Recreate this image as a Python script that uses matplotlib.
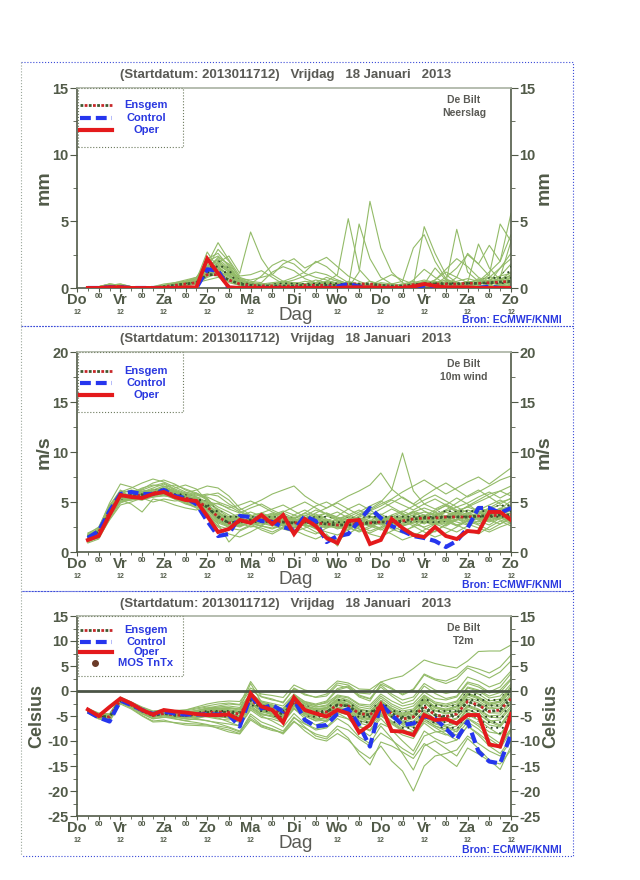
import numpy as np
import matplotlib
matplotlib.use('Agg')
import matplotlib.pyplot as plt
from matplotlib.patches import Rectangle
from matplotlib.lines import Line2D

plt.rcParams['font.family'] = ['Liberation Sans', 'DejaVu Sans']
plt.rcParams['hatch.linewidth'] = 0.7
plt.rcParams['axes.unicode_minus'] = False

# ---------------- data ----------------
hours = list(range(6, 241, 6))            # forecast steps (h after 17 Jan 12 UTC)
tick_hours = list(range(0, 241, 12))
tick_labels = ['Do', '00', 'Vr', '00', 'Za', '00', 'Zo', '00', 'Ma', '00', 'Di',
               '00', 'Wo', '00', 'Do', '00', 'Vr', '00', 'Za', '00', 'Zo']
sub_hours = [0, 24, 48, 72, 96, 144, 168, 192, 216, 240]   # '12' marks (hidden under 'Dag' at 120)
title = '(Startdatum: 2013011712)   Vrijdag   18 Januari   2013'

# Precipitation (mm / 6h)
prec_mean = [0, 0.03, 0.1, 0.1, 0.03, 0, 0.02, 0.1, 0.2, 0.3, 0.4, 1.0, 1.0, 0.6, 0.3, 0.2, 0.15, 0.15, 0.15, 0.15,
             0.2, 0.2, 0.2, 0.2, 0.3, 0.3, 0.3, 0.2, 0.15, 0.15, 0.25, 0.3, 0.3, 0.3, 0.3, 0.35, 0.35, 0.4, 0.45, 0.5]
prec_control = [0, 0, 0.05, 0.05, 0, 0, 0, 0, 0, 0, 0, 1.4, 1.3, 0, 0, 0, 0, 0, 0, 0,
                0, 0, 0, 0.1, 0.3, 0.1, 0, 0, 0, 0, 0, 0.2, 0.1, 0, 0, 0, 0, 0.1, 0, 0]
prec_oper = [0, 0, 0.05, 0.05, 0, 0, 0, 0, 0, 0.05, 0.05, 2.2, 1.1, 0.05, 0, 0, 0, 0, 0, 0,
             0, 0, 0, 0, 0.05, 0.05, 0.05, 0, 0, 0, 0.1, 0.3, 0.15, 0.05, 0.05, 0.05, 0, 0, 0, 0]
prec_members = [
    [0,0.1,0.3,0.2,0,0,0.1,0.3,0.4,0.5,0.6,2.7,1.5,0.4,0.2,0.1,0,0,0,0.1,0.2,0.3,0.1,0,0,0.2,0.5,0.3,0.1,0,0,0.2,0.4,0.1,0,0.1,0.3,0.5,0.2,0.4],
    [0,0,0.1,0.1,0,0,0,0.2,0.3,0.4,0.5,1.8,3.4,2.1,0.9,1.0,1.3,0.8,0.3,0.2,0.1,0,0,0.1,0.3,0.2,0,0,0,0.1,0.6,1.4,0.8,0.3,0.1,0,0,0.2,0.6,1.2],
    [0,0.1,0.2,0.1,0,0,0,0.1,0.2,0.3,0.4,1.2,1.9,2.4,1.1,4.2,2.2,1.0,0.5,0.3,0.2,0.4,0.8,0.5,0.2,0.1,0,0,0,0,0.2,0.5,0.3,0.1,0,0,0.3,0.8,1.5,2.6],
    [0,0,0.2,0.3,0.1,0,0,0,0.2,0.3,0.6,2.2,2.6,1.6,0.5,0.3,0.9,1.7,2.1,1.8,1.1,0.8,0.6,0.3,0.1,0,0,0.2,0.3,0.1,0,0,0.1,0.4,4.4,1.2,0.5,0.2,0.1,0.3],
    [0,0,0,0,0,0,0.1,0.2,0.4,0.6,0.8,1.6,2.0,1.4,0.6,0.3,0.2,0.1,0,0,0,0.2,0.5,1.0,5.2,1.4,0.5,0.2,0,0,0,0.3,0.6,1.2,0.8,0.4,3.3,1.5,0.6,0.3],
    [0,0.1,0.3,0.2,0,0,0,0.1,0.3,0.5,0.7,1.4,2.3,1.8,0.8,0.5,0.4,1.2,1.6,1.3,0.7,0.4,0.2,0.1,0,1.2,6.5,3.0,1.2,0.4,0.1,0,0.2,0.5,0.3,0.1,0.4,1.0,4.8,3.5],
    [0,0,0.1,0.1,0,0,0,0.2,0.3,0.4,0.5,1.0,1.4,1.1,0.7,0.6,0.8,1.0,1.8,2.2,1.5,1.9,2.3,1.6,0.9,0.5,0.2,0.1,0,0,0,0.1,0.3,0.8,1.5,2.5,1.8,0.9,0.5,1.0],
    [0,0,0,0.1,0,0,0,0,0.1,0.2,0.3,1.3,1.7,1.2,0.4,0.2,0.1,0,0,0.1,0.3,0.6,0.4,0.2,0.1,4.8,2.2,0.8,0.3,0.5,3.0,4.0,2.0,0.7,0.3,0.2,0.5,1.2,2.0,5.6],
    [0,0.1,0.2,0.3,0.1,0,0,0.1,0.2,0.3,0.4,1.1,1.3,0.9,0.5,0.3,0.2,0.3,0.5,0.8,1.2,2.0,1.6,0.9,0.4,0.2,0.1,0,0,0.1,0.2,4.6,2.6,1.0,0.4,0.2,0.1,0,0.3,0.8],
    [0,0,0.1,0.1,0,0,0,0.1,0.2,0.3,0.5,0.9,1.6,1.0,0.3,0.1,0,0,0.1,0.3,0.5,0.4,0.2,0.1,0,0,0.1,0.3,0.2,0.1,0,0,0,0.2,0.8,2.6,1.8,3.2,2.0,4.0],
    [0,0,0.1,0,0,0,0,0.1,0.3,0.5,0.8,2.0,2.4,1.7,0.6,0.2,0.1,0,0,0,0.1,0.2,0.4,0.6,0.3,0.1,0,0,0.1,0.3,0.5,0.2,0.1,0,0,0.3,0.7,0.4,0.2,0.1],
    [0,0.1,0.2,0.1,0,0,0,0,0.1,0.2,0.4,1.5,2.9,2.0,0.7,0.4,0.3,0.2,0.4,0.6,0.9,1.2,1.0,0.6,0.3,0.1,0,0,0,0,0,0.2,0.6,1.4,2.2,1.6,0.8,0.4,1.5,2.2],
    [0,0,0.1,0.2,0.1,0,0,0.1,0.2,0.4,0.7,1.7,2.1,1.3,0.5,0.2,0.1,0.1,0,0,0.1,0.2,0.1,0,0,0,0.2,0.6,1.0,0.6,0.3,0.1,0,0,0.2,0.5,0.2,0.1,0.9,1.8],
    [0,0,0,0,0,0,0,0.1,0.2,0.3,0.5,1.1,1.2,0.8,0.3,0.1,0,0,0,0,0,0.1,0.3,0.2,0.1,0,0,0,0,0,0.1,0.3,1.5,0.6,0.2,0.1,0,0,0.1,0.2],
    [0,0.1,0.3,0.2,0.1,0,0,0.1,0.3,0.4,0.6,1.4,1.6,0.9,0.4,0.2,0.1,0,0,0.1,0.2,0.1,0,0,0.1,0.3,0.2,0.1,0,0,0,0,0.2,0.3,0.1,0,0.2,0.6,0.3,0.5],
    [0,0,0.1,0.1,0,0,0,0,0.1,0.2,0.3,0.8,1.1,0.7,0.2,0.1,0,0,0,0,0.1,0.3,0.5,0.3,0.1,0,0,0,0,0,0.1,0.2,0.1,0,0,0,0.1,0.3,0.8,3.5],
    [0,0,0.1,0.2,0.1,0,0,0.1,0.2,0.3,0.5,1.0,0.9,0.6,0.3,0.1,0,0,0,0,0,0,0.1,0.2,0.5,0.3,0.1,0,0,0,0,0.1,0.2,0.1,0,0,0,0.1,0.2,0.4],
    [0,0,0,0.1,0,0,0,0,0.1,0.3,0.4,0.6,0.8,0.5,0.2,0.1,0,0,0,0,0,0,0,0,0.1,0.2,0.1,0,0,0,0,0,0,0.1,0.2,0.1,0,0,0.1,0.2],
    [0,0,0.1,0.1,0,0,0,0.1,0.2,0.3,0.5,1.2,1.5,1.0,0.4,0.2,0.1,0.1,0.2,0.3,0.2,0.1,0.1,0.2,0.3,0.2,0.1,0,0.1,0.2,0.3,0.2,0.4,0.6,0.4,0.2,0.3,0.5,0.7,0.9],
    [0,0.1,0.2,0.2,0.1,0,0,0.1,0.2,0.4,0.6,1.5,1.8,1.2,0.5,0.3,0.2,0.3,0.4,0.3,0.2,0.3,0.4,0.3,0.2,0.1,0.2,0.4,0.3,0.2,0.4,0.6,0.4,0.3,0.5,0.7,0.5,0.3,0.6,0.8],
    [0,0,0.1,0.2,0.1,0,0,0,0.1,0.2,0.3,0.9,1.2,0.9,0.4,0.2,0.2,0.1,0.1,0.2,0.3,0.4,0.3,0.2,0.1,0.2,0.3,0.2,0.1,0.1,0.2,0.3,0.2,0.2,0.3,0.4,0.6,0.4,0.3,0.5],
    [0,0.1,0.1,0.1,0,0,0,0.1,0.3,0.5,0.7,1.6,2.2,1.5,0.6,0.3,0.2,0.2,0.3,0.4,0.3,0.2,0.3,0.4,0.3,0.2,0.1,0.1,0.2,0.3,0.2,0.4,0.5,0.3,0.2,0.4,0.6,0.8,0.5,0.7],
    [0,0,0.2,0.2,0,0,0,0.1,0.2,0.3,0.4,1.3,1.9,1.3,0.5,0.3,0.3,0.4,0.5,0.4,0.3,0.2,0.2,0.3,0.4,0.3,0.2,0.1,0,0.1,0.3,0.5,0.3,0.2,0.3,0.5,0.4,0.6,0.9,1.1],
    [0,0,0.1,0.1,0,0,0,0.1,0.2,0.3,0.4,1.0,1.4,1.1,0.6,0.4,0.3,0.2,0.2,0.2,0.1,0.2,0.3,0.2,0.2,0.3,0.2,0.2,0.3,0.2,0.1,0.2,0.3,0.4,0.3,0.2,0.4,0.3,0.4,0.6],
]

# 10 m wind (m/s)
wind_mean = [1.5, 2.0, 4.0, 5.6, 5.6, 5.7, 5.9, 6.1, 5.7, 5.4, 5.1, 4.5, 3.5, 2.9, 3.0, 3.2, 3.2, 3.1, 3.0, 2.9,
             3.0, 2.9, 2.8, 2.7, 2.7, 2.8, 2.9, 3.0, 3.0, 3.1, 3.3, 3.4, 3.4, 3.5, 3.5, 3.5, 3.6, 3.6, 3.7, 3.7]
wind_control = [1.4, 2.1, 4.1, 5.8, 6.0, 5.8, 5.8, 6.2, 5.6, 5.4, 4.8, 3.1, 1.6, 1.8, 3.6, 3.5, 3.1, 3.0, 2.5, 2.2,
                3.6, 3.1, 1.0, 1.6, 1.8, 3.1, 4.4, 3.4, 2.6, 2.1, 1.6, 1.4, 1.1, 0.5, 1.1, 2.4, 4.4, 4.4, 3.9, 4.4]
wind_oper = [1.2, 1.6, 3.7, 5.7, 5.5, 5.4, 5.8, 6.0, 5.5, 5.2, 5.1, 3.6, 2.0, 2.3, 3.2, 2.9, 3.7, 2.8, 3.7, 1.8,
             3.3, 2.6, 1.4, 0.9, 3.1, 3.2, 0.8, 1.2, 3.3, 2.4, 1.7, 1.5, 2.5, 1.6, 1.3, 2.1, 2.0, 4.0, 4.0, 3.2]
wind_members = [
    [1.2,1.8,4.2,5.8,6.2,6.0,6.4,6.8,6.2,5.8,5.5,5.0,4.2,3.5,3.8,3.2,3.5,3.0,2.6,2.4,2.8,3.3,3.0,2.5,2.2,2.9,3.4,3.8,3.2,2.7,3.0,3.6,4.2,4.6,4.0,3.5,3.9,4.4,5.0,5.3],
    [1.6,2.2,4.6,6.2,5.4,5.2,5.9,6.2,5.8,5.6,5.9,5.4,4.1,3.0,2.6,2.9,3.4,3.8,3.3,2.9,2.2,1.8,2.4,3.1,3.5,3.0,2.6,2.2,2.8,3.5,4.1,3.7,3.0,2.6,3.2,3.8,4.5,4.0,3.4,3.0],
    [1.0,1.5,3.5,5.0,5.2,5.6,5.5,5.9,6.4,6.7,6.3,5.1,3.3,2.4,2.2,2.7,3.0,3.6,3.9,3.4,2.8,3.1,3.6,4.0,3.4,2.6,2.1,2.5,3.3,3.8,3.1,2.4,2.0,2.8,3.9,4.6,5.2,5.8,6.1,6.6],
    [1.9,2.4,4.9,6.8,6.5,6.0,6.2,6.6,6.0,5.4,4.8,3.9,2.8,1.0,2.1,2.6,2.4,2.0,2.5,2.9,3.6,4.2,3.8,3.1,2.6,2.3,1.8,1.5,2.1,2.6,2.9,3.3,2.8,2.4,2.0,2.6,3.1,2.7,3.4,3.9],
    [1.3,1.7,3.8,5.2,4.8,4.0,5.3,5.1,4.7,4.4,4.2,4.6,4.9,4.3,3.9,4.4,4.8,4.2,3.7,3.3,3.9,4.6,5.0,4.4,3.8,3.2,3.7,4.3,4.9,5.5,4.8,4.1,3.6,4.2,4.9,5.6,6.2,5.5,4.8,5.4],
    [1.4,2.0,4.1,5.5,5.9,6.3,6.9,7.2,6.8,6.2,5.8,5.2,4.5,4.0,3.4,2.8,2.2,1.8,2.4,3.0,2.6,2.0,1.6,1.2,1.8,2.5,3.2,2.9,2.3,1.9,2.6,3.4,4.0,4.7,5.4,4.8,4.0,3.6,4.3,5.1],
    [1.1,1.4,3.2,4.7,5.0,5.4,5.0,5.3,5.1,5.2,5.4,5.7,5.9,5.2,4.1,3.6,3.9,4.3,4.7,4.1,3.5,2.9,2.5,2.9,3.5,4.0,4.6,5.1,4.5,3.9,3.3,2.8,3.4,4.0,3.5,3.0,3.5,4.2,3.8,3.3],
    [1.7,2.3,4.4,5.9,5.7,5.5,5.8,6.0,5.5,4.9,4.4,3.6,2.6,2.3,2.8,3.3,3.0,2.7,2.3,2.0,2.4,2.8,3.2,2.9,2.4,2.1,2.6,3.0,3.6,3.2,2.6,2.0,1.5,1.9,2.5,3.1,2.7,2.2,2.8,3.5],
    [1.5,1.9,4.0,5.4,5.8,6.2,6.0,6.4,6.1,5.7,5.1,4.4,3.8,3.3,3.6,4.0,3.6,3.2,2.9,3.4,3.9,3.5,2.9,2.5,3.0,3.6,4.2,4.8,5.3,6.0,6.6,7.2,6.5,5.8,6.4,7.0,7.5,6.8,7.6,8.4],
    [0.9,1.3,3.3,4.9,5.3,5.8,6.3,6.0,5.7,5.9,6.2,6.6,6.4,5.6,4.4,3.7,3.2,2.8,3.1,3.7,4.2,3.6,3.1,3.6,4.3,4.8,4.2,3.5,2.9,2.4,1.9,1.5,2.1,2.7,3.3,2.8,2.4,2.0,2.5,2.9],
    [1.6,2.1,4.3,5.6,5.5,5.9,6.1,5.7,5.3,4.8,4.5,4.1,3.6,3.2,2.9,2.5,2.7,3.2,3.6,3.2,2.7,2.4,2.0,1.7,2.2,2.8,3.1,3.7,4.3,3.8,3.3,2.9,3.5,4.1,4.5,3.9,3.3,3.8,4.4,4.0],
    [1.2,1.6,3.7,5.3,5.6,5.8,5.6,5.9,5.4,5.0,4.7,4.2,3.1,2.5,2.9,3.4,3.8,3.4,2.8,2.2,1.7,1.3,1.8,0.6,2.7,3.3,2.8,2.3,1.8,1.2,1.6,2.2,2.8,3.3,2.7,2.2,1.8,2.5,3.1,2.6],
    [1.8,2.5,4.7,6.0,6.4,6.9,7.3,7.0,6.5,6.0,5.7,5.5,5.0,4.6,4.0,3.5,3.1,3.5,4.0,4.5,5.0,4.4,3.8,3.3,3.7,4.2,3.6,3.1,3.5,4.0,4.6,5.2,5.7,5.1,4.5,4.9,5.5,6.0,5.4,6.0],
    [1.3,1.8,3.9,5.1,5.2,5.3,5.7,6.1,5.9,5.5,5.2,4.0,2.5,1.8,1.5,2.0,2.6,3.2,2.8,2.4,2.9,3.4,3.9,3.4,2.8,2.3,1.9,2.4,3.0,3.5,4.0,3.4,2.9,3.4,3.9,3.3,2.8,3.3,3.9,4.5],
    [1.5,2.1,4.2,5.7,5.4,5.6,6.0,6.3,5.9,5.5,5.3,5.0,4.8,4.4,4.7,5.1,4.6,4.0,3.6,3.1,3.4,3.9,4.4,4.9,4.3,3.7,4.1,4.6,5.2,4.7,4.2,4.8,5.3,4.7,4.1,4.5,5.0,5.5,6.1,5.6],
    [1.0,1.6,3.6,5.2,5.8,6.0,5.9,6.5,6.7,6.3,5.9,5.3,4.0,3.2,3.5,3.0,2.6,2.3,2.7,3.2,2.8,2.3,2.6,3.0,2.5,2.0,2.4,3.0,2.6,2.1,2.5,3.0,3.6,3.1,2.6,3.2,3.7,3.2,2.8,3.3],
    [1.4,1.9,4.0,5.4,5.6,5.3,5.5,5.7,5.6,5.3,5.0,4.5,3.4,2.8,2.5,3.0,3.5,3.9,3.4,3.0,3.4,3.8,3.3,2.8,3.2,3.8,4.3,5.0,6.2,9.9,6.1,4.8,4.3,4.8,4.2,3.7,4.2,4.7,5.2,4.6],
    [1.7,2.2,4.5,6.1,6.0,6.2,6.6,6.9,6.3,5.9,5.6,5.8,5.6,4.8,4.2,4.7,5.2,5.8,6.2,6.6,5.6,4.9,4.4,5.0,5.6,6.1,6.7,7.9,6.3,5.4,4.8,5.6,6.3,6.9,6.2,5.5,6.0,6.6,7.2,7.6],
    [1.5,2.0,4.1,5.5,5.7,5.9,6.1,6.3,5.8,5.5,5.2,4.6,3.7,3.1,2.9,3.3,3.6,3.3,2.9,2.7,3.1,3.5,3.2,2.8,3.0,3.4,3.1,2.7,3.1,3.6,3.9,3.5,3.1,3.6,4.0,3.6,3.2,3.7,4.1,3.8],
    [1.3,1.9,3.9,5.6,5.5,5.6,5.8,6.0,5.6,5.2,4.9,4.3,3.3,2.6,2.8,3.1,2.9,2.6,2.8,3.1,2.7,2.5,2.9,3.2,2.8,2.5,2.9,3.3,2.9,2.6,3.0,3.5,3.1,2.8,3.2,3.6,3.3,3.0,3.4,3.1],
    [1.6,2.1,4.2,5.6,5.8,6.0,6.2,6.4,6.0,5.6,5.3,4.8,3.9,3.3,3.1,2.8,3.1,3.4,3.2,2.8,3.2,3.0,2.6,2.4,2.9,3.1,2.8,3.2,3.6,3.3,3.7,4.0,3.7,3.3,3.8,4.2,3.9,3.5,3.9,4.3],
    [1.4,1.9,3.8,5.3,5.4,5.5,5.7,5.8,5.4,5.1,4.8,4.0,3.0,2.7,3.0,3.4,3.1,2.9,3.3,3.0,2.6,2.8,3.0,2.6,2.4,2.7,3.1,2.8,2.5,2.9,3.2,2.9,3.3,3.0,2.7,3.1,3.4,3.1,3.5,3.2],
    [1.2,1.7,3.6,5.1,5.4,5.7,6.0,6.2,5.9,5.6,5.4,5.0,4.3,3.7,3.3,3.6,3.9,3.5,3.1,3.4,3.7,3.3,2.9,3.3,3.6,3.2,2.8,3.2,3.7,4.1,3.6,3.2,3.7,4.2,3.8,3.4,3.8,4.3,4.7,4.2],
    [1.7,2.2,4.3,5.8,5.6,5.4,5.6,5.9,5.3,4.9,4.6,3.8,2.9,2.5,2.7,2.9,2.6,2.4,2.7,2.5,2.9,3.2,2.8,2.3,2.6,3.0,2.7,2.4,2.8,3.1,2.8,2.5,2.9,3.3,3.0,2.7,3.1,3.5,3.2,2.9],
    [1.1,1.6,3.7,5.4,5.9,6.4,6.7,6.6,6.1,5.8,5.5,4.9,3.6,2.9,2.6,3.0,3.3,3.7,4.1,3.7,3.3,3.6,3.9,3.5,3.1,3.5,3.9,3.6,3.2,3.6,4.0,4.4,4.0,3.6,4.1,4.5,4.1,3.7,4.2,4.6],
    [1.5,2.0,4.0,5.6,5.3,5.2,5.5,5.6,5.5,5.3,5.0,4.4,3.4,3.0,3.3,3.0,2.8,3.1,2.8,2.6,2.9,2.7,2.4,2.7,3.0,2.7,3.0,3.4,3.1,2.8,3.2,3.0,2.7,3.0,3.3,3.0,3.4,3.2,3.6,3.4],
    [1.3,1.8,4.0,5.5,5.7,5.8,6.0,6.1,5.6,5.2,5.0,4.6,3.8,3.4,3.6,3.3,3.0,3.3,3.6,3.3,3.0,3.3,3.6,3.2,2.9,3.2,3.5,3.1,2.8,3.3,3.7,3.3,3.7,4.0,3.6,3.9,4.3,3.9,4.3,4.0],
    [1.6,2.3,4.4,5.7,5.5,5.8,5.9,6.2,5.9,5.4,5.1,4.3,3.2,2.7,2.9,3.2,3.4,3.0,2.6,2.9,3.3,3.0,2.7,3.0,3.3,2.9,2.6,3.0,3.4,3.0,3.4,3.7,3.4,3.1,3.5,3.2,3.6,4.0,3.6,3.9],
    [1.4,1.8,3.9,5.4,5.6,5.7,5.9,6.3,6.0,5.7,5.3,4.6,3.5,3.1,3.4,3.7,3.3,3.0,3.2,3.5,3.2,2.9,3.1,2.8,3.1,3.4,3.1,2.9,3.3,3.5,3.2,3.6,3.9,3.5,3.2,3.6,3.9,3.6,3.3,3.7],
    [1.2,1.7,3.7,5.2,5.3,5.6,5.8,5.9,5.6,5.4,5.2,4.7,3.9,3.5,3.2,2.9,3.2,3.5,3.1,2.8,3.1,3.4,3.0,2.7,3.0,3.3,3.6,3.2,2.9,3.2,3.5,3.1,2.8,3.2,3.6,3.3,3.0,3.4,3.8,3.5],
]

# 2 m temperature (Celsius)
temp_mean = [-3.9, -5.0, -5.2, -1.8, -2.8, -4.0, -4.9, -4.5, -4.8, -4.9, -4.6, -4.3, -4.2, -4.3, -4.6, -1.8, -3.4, -3.9, -4.6, -2.2,
             -3.8, -4.5, -4.2, -2.8, -3.0, -4.5, -4.8, -2.8, -4.5, -5.6, -5.2, -3.1, -4.8, -5.1, -4.6, -2.1, -2.8, -4.1, -3.8, -1.5]
temp_control = [-4.1, -5.3, -6.1, -1.9, -2.8, -3.8, -4.6, -4.1, -4.5, -4.7, -4.7, -4.7, -4.7, -4.8, -7.1, -1.0, -3.5, -2.8, -4.1, -1.7,
                -5.8, -7.1, -6.8, -4.5, -3.6, -6.8, -11.1, -2.6, -4.8, -6.8, -6.5, -5.1, -5.5, -7.5, -9.7, -6.1, -12.1, -14.1, -14.5, -8.6]
temp_oper = [-3.7, -5.0, -3.2, -1.5, -2.5, -3.8, -4.7, -3.8, -4.1, -4.3, -4.6, -4.8, -4.8, -4.7, -5.8, -0.5, -3.1, -3.8, -6.3, -1.3,
             -3.8, -4.5, -5.1, -3.8, -4.5, -8.3, -6.8, -2.8, -8.0, -8.1, -8.8, -4.8, -5.8, -5.6, -6.5, -4.8, -4.8, -10.7, -11.1, -4.6]
temp_members = [
    [-3.6,-4.7,-5.0,-1.5,-2.6,-3.7,-4.5,-4.0,-4.3,-4.4,-4.0,-3.5,-3.2,-3.0,-3.3,-0.5,-2.0,-2.5,-3.0,-0.6,-2.2,-2.8,-2.4,-0.8,-1.2,-2.6,-2.8,-0.6,-2.0,-3.0,-2.5,-0.2,-1.5,-1.8,-1.2,1.5,0.8,-0.4,0.2,2.5],
    [-3.8,-4.8,-4.9,-1.6,-2.5,-3.6,-4.4,-3.9,-4.0,-3.8,-3.2,-2.6,-2.2,-2.0,-2.1,0.6,-0.6,-0.9,-1.3,1.2,0.2,-0.3,0.1,2.0,1.6,0.4,0.3,1.8,2.5,3.0,4.5,6.2,5.5,5.0,4.6,6.0,7.9,8.0,8.0,9.2],
    [-4.2,-5.4,-5.8,-2.3,-3.4,-4.9,-6.0,-5.8,-6.4,-6.8,-6.9,-7.0,-7.3,-7.8,-8.5,-5.0,-6.8,-7.6,-8.4,-6.0,-8.0,-9.5,-10.0,-8.5,-9.8,-12.0,-13.5,-11.0,-14.0,-16.0,-20.0,-15.0,-13.0,-12.5,-11.8,-9.0,-10.5,-12.0,-13.0,-10.0],
    [-3.7,-5.2,-5.6,-2.0,-3.1,-4.5,-5.6,-5.2,-5.6,-5.9,-5.5,-5.0,-5.4,-6.2,-7.0,-3.5,-5.0,-6.0,-7.2,-4.5,-6.5,-7.8,-7.4,-5.5,-6.8,-9.2,-10.5,-7.0,-9.5,-12.5,-15.8,-11.0,-10.0,-11.5,-13.0,-9.5,-11.5,-13.8,-15.7,-11.0],
    [-4.0,-4.9,-5.0,-1.9,-2.7,-3.8,-4.6,-4.3,-4.9,-5.3,-5.1,-4.9,-5.0,-5.1,-5.2,-2.5,-4.0,-4.8,-5.5,-2.9,-4.5,-5.6,-5.9,-3.8,-4.2,-5.5,-6.2,-3.5,-5.2,-6.5,-7.3,-4.2,-6.0,-7.0,-8.2,-5.5,-7.0,-9.0,-10.5,-7.5],
    [-3.5,-4.6,-4.8,-1.4,-2.2,-3.2,-4.0,-3.8,-4.1,-4.5,-4.8,-5.2,-5.6,-5.8,-5.3,-1.2,-2.5,-3.0,-3.6,-0.8,-2.1,-2.6,-2.0,0.5,1.0,-0.8,-1.5,1.2,-0.6,-1.8,-1.2,1.5,0.2,-0.5,0.0,2.8,2.0,0.8,1.6,4.0],
    [-4.1,-5.1,-5.4,-2.1,-3.0,-4.3,-5.3,-5.0,-5.2,-5.0,-4.7,-4.4,-4.6,-5.0,-5.9,-3.0,-4.6,-5.2,-6.0,-3.5,-5.5,-6.8,-6.0,-4.0,-4.8,-7.0,-8.0,-5.5,-7.8,-10.0,-12.0,-8.0,-9.5,-10.5,-9.8,-7.0,-8.5,-10.2,-11.5,-8.0],
    [-3.9,-4.9,-5.1,-1.7,-2.9,-4.2,-5.0,-4.4,-4.6,-4.7,-4.4,-3.9,-3.6,-3.5,-3.8,-0.9,-2.6,-3.2,-3.9,-1.5,-2.9,-3.5,-3.3,-1.6,-2.2,-3.8,-4.1,-1.9,-3.6,-4.6,-4.0,-1.5,-3.1,-3.8,-3.0,-0.6,-1.2,-2.4,-2.0,0.5],
    [-3.6,-4.5,-4.6,-1.3,-2.4,-3.5,-4.2,-4.2,-4.6,-5.1,-5.5,-6.0,-6.3,-6.6,-7.0,-3.8,-5.3,-5.6,-6.3,-3.6,-5.0,-5.9,-5.2,-2.6,-3.2,-5.0,-5.6,-2.5,-4.8,-6.2,-5.5,-2.0,-4.5,-5.6,-6.5,-3.2,-4.0,-5.8,-6.8,-3.8],
    [-4.3,-5.5,-5.7,-2.4,-3.3,-4.6,-5.5,-5.3,-5.3,-5.2,-4.9,-4.3,-4.0,-4.0,-4.3,-1.0,-2.8,-3.3,-4.2,-1.8,-3.4,-4.0,-3.6,-1.9,-2.6,-4.0,-4.6,-2.2,-4.0,-5.0,-4.2,-1.2,-2.5,-2.9,-2.2,0.8,0.2,-1.0,-0.3,2.2],
    [-3.8,-4.8,-5.2,-1.9,-2.8,-3.9,-4.8,-4.6,-4.9,-5.0,-4.7,-4.6,-4.9,-5.5,-6.3,-3.3,-4.8,-5.0,-5.6,-3.0,-4.4,-5.3,-6.2,-4.4,-5.6,-7.6,-9.0,-6.5,-7.5,-8.8,-9.5,-6.0,-7.3,-8.6,-9.8,-7.0,-8.8,-11.0,-12.5,-9.5],
    [-3.7,-4.7,-4.9,-1.6,-2.6,-3.8,-4.7,-4.2,-4.4,-4.3,-3.9,-3.4,-3.0,-2.6,-2.8,0.2,-1.2,-1.8,-2.2,0.4,-0.8,-1.2,-0.6,1.6,1.2,-0.4,-0.6,1.8,0.6,-0.8,0.2,3.2,2.2,1.5,2.4,4.6,3.6,2.6,3.8,6.0],
    [-4.0,-5.2,-5.5,-2.2,-3.1,-4.4,-5.2,-4.8,-5.2,-5.6,-5.7,-5.9,-6.5,-7.2,-8.0,-5.5,-7.0,-7.6,-8.6,-6.2,-7.4,-8.6,-9.2,-7.0,-7.8,-9.6,-11.0,-8.4,-9.8,-11.5,-12.8,-9.0,-8.2,-8.0,-7.6,-4.8,-5.8,-7.4,-8.8,-6.0],
    [-3.9,-5.0,-5.3,-1.8,-2.7,-4.0,-4.8,-4.4,-4.7,-4.8,-4.5,-4.1,-3.9,-4.1,-4.4,-1.5,-3.0,-3.4,-4.1,-1.6,-3.0,-3.6,-3.6,-2.0,-2.6,-4.3,-4.9,-3.0,-5.0,-6.8,-8.0,-5.2,-6.6,-7.2,-6.4,-3.6,-4.6,-6.2,-7.0,-4.0],
    [-3.5,-4.4,-4.6,-1.2,-2.2,-3.3,-4.1,-3.7,-3.9,-3.8,-3.4,-3.0,-2.6,-2.4,-2.7,1.9,-1.1,-1.6,-2.4,0.6,-0.6,-1.3,-1.0,1.2,0.6,-1.0,-1.6,0.8,-1.0,-2.5,-1.8,1.0,-0.5,-1.5,-1.0,1.8,1.2,-0.2,0.8,3.5],
    [-4.2,-5.3,-5.5,-2.0,-3.0,-4.2,-5.1,-4.9,-5.5,-6.0,-6.3,-6.7,-7.5,-8.2,-8.6,-5.8,-7.2,-7.9,-8.3,-5.4,-6.6,-7.5,-7.2,-5.0,-5.6,-7.2,-7.8,-5.0,-6.4,-7.8,-8.6,-5.6,-7.0,-8.0,-8.8,-6.2,-7.6,-9.6,-11.0,-7.6],
    [-3.6,-4.8,-5.0,-1.7,-2.6,-3.6,-4.5,-4.1,-4.2,-4.0,-3.6,-3.2,-3.4,-3.8,-4.2,-1.6,-3.2,-3.8,-4.8,-2.6,-4.2,-5.0,-4.4,-2.2,-2.8,-4.6,-5.4,-3.2,-5.0,-6.0,-5.0,-1.8,-3.4,-4.0,-3.2,-0.6,-1.4,-2.8,-2.2,1.0],
    [-3.9,-5.1,-5.3,-1.9,-3.0,-4.2,-5.0,-4.6,-4.7,-4.6,-4.2,-3.8,-3.5,-3.4,-3.6,1.5,-2.2,-2.8,-3.6,-1.0,-2.4,-2.9,-2.2,0.2,0.8,-1.2,-2.0,1.4,0.4,-0.6,0.4,3.4,2.4,2.0,3.0,5.0,4.4,3.6,4.8,7.2],
    [-4.4,-5.6,-6.1,-2.6,-3.6,-5.0,-6.2,-6.1,-6.3,-6.5,-6.6,-6.8,-7.0,-7.4,-8.2,-4.6,-6.2,-7.0,-8.0,-5.2,-7.2,-9.0,-9.6,-7.6,-9.4,-12.6,-14.8,-10.2,-11.0,-12.2,-13.5,-10.5,-12.0,-13.5,-15.1,-11.4,-12.6,-14.0,-14.6,-11.8],
    [-3.8,-4.9,-5.1,-1.7,-2.7,-3.9,-4.8,-4.4,-4.6,-4.6,-4.2,-3.8,-3.8,-4.0,-4.3,-1.2,-2.8,-3.4,-4.0,-1.4,-3.0,-3.8,-3.4,-1.8,-2.2,-3.6,-4.0,-1.9,-3.4,-4.4,-3.9,-1.6,-3.2,-3.6,-3.0,-0.4,-1.2,-2.6,-2.2,0.2],
    [-4.0,-5.1,-5.4,-2.0,-3.0,-4.2,-5.1,-4.7,-5.0,-5.1,-4.9,-4.7,-4.7,-4.9,-5.3,-2.6,-4.2,-4.6,-5.4,-3.1,-4.7,-5.6,-5.4,-4.0,-4.4,-6.0,-6.4,-4.3,-6.0,-7.2,-7.0,-4.8,-6.4,-6.8,-6.2,-3.8,-4.6,-6.0,-5.8,-3.4],
    [-3.7,-4.8,-5.0,-1.6,-2.6,-3.8,-4.6,-4.2,-4.5,-4.7,-4.4,-4.0,-3.9,-3.9,-4.2,-1.4,-3.0,-3.6,-4.4,-2.0,-3.5,-4.2,-3.9,-2.4,-2.8,-4.4,-4.6,-2.4,-4.0,-5.0,-4.6,-2.4,-4.0,-4.6,-4.2,-1.6,-2.4,-3.6,-3.4,-1.0],
    [-4.1,-5.2,-5.3,-1.9,-2.9,-4.1,-5.0,-4.6,-4.9,-5.0,-4.8,-4.5,-4.4,-4.5,-4.9,-2.2,-3.8,-4.2,-4.9,-2.6,-4.2,-4.9,-4.6,-3.2,-3.6,-5.2,-5.6,-3.6,-5.2,-6.4,-6.0,-3.8,-5.6,-6.0,-5.4,-2.8,-3.6,-5.0,-4.8,-2.4],
    [-3.9,-5.0,-5.2,-1.8,-2.8,-4.0,-4.8,-4.3,-4.5,-4.4,-4.0,-3.6,-3.4,-3.3,-3.6,-0.6,-2.2,-2.8,-3.5,-1.0,-2.6,-3.2,-2.8,-1.0,-1.4,-2.8,-3.2,-1.0,-2.6,-3.6,-3.0,-0.8,-2.2,-2.6,-2.0,0.6,0.0,-1.4,-1.0,1.4],
    [-3.8,-4.9,-5.3,-2.0,-3.0,-4.3,-5.2,-4.9,-5.3,-5.5,-5.3,-5.1,-5.2,-5.4,-5.8,-3.0,-4.5,-5.0,-5.8,-3.4,-5.0,-6.0,-5.8,-4.2,-4.8,-6.4,-7.0,-4.8,-6.6,-8.0,-8.2,-5.6,-7.0,-7.6,-7.0,-4.2,-5.2,-6.8,-7.2,-4.6],
    [-3.6,-4.6,-4.8,-1.5,-2.5,-3.6,-4.4,-4.0,-4.2,-4.2,-3.9,-3.6,-3.6,-3.8,-4.2,-1.6,-3.2,-3.8,-4.6,-2.2,-3.8,-4.6,-4.4,-2.8,-3.2,-4.8,-5.0,-2.6,-4.2,-5.4,-4.8,-2.2,-3.8,-4.4,-4.0,-1.2,-2.0,-3.4,-3.0,-0.6],
    [-4.0,-5.2,-5.4,-2.0,-2.9,-4.1,-5.0,-4.6,-4.8,-4.8,-4.5,-4.2,-4.0,-4.1,-4.4,-1.6,-3.3,-3.7,-4.3,-1.8,-3.2,-3.8,-3.4,-1.6,-2.0,-3.6,-4.2,-2.0,-4.0,-5.2,-5.4,-3.2,-5.0,-5.4,-4.8,-2.2,-3.0,-4.4,-4.4,-2.0],
    [-3.9,-4.9,-5.0,-1.7,-2.7,-4.0,-4.9,-4.5,-4.7,-4.9,-4.7,-4.5,-4.6,-4.8,-5.1,-2.4,-4.0,-4.5,-5.2,-2.8,-4.4,-5.2,-5.0,-3.4,-3.8,-5.4,-5.8,-3.6,-5.4,-6.6,-6.4,-4.2,-5.8,-6.2,-5.6,-3.0,-3.8,-5.2,-5.4,-3.0],
    [-3.7,-4.7,-5.0,-1.6,-2.7,-3.9,-4.7,-4.3,-4.6,-4.7,-4.4,-4.1,-4.0,-4.2,-4.5,-1.7,-3.3,-3.9,-4.7,-2.4,-4.0,-4.7,-4.3,-2.6,-2.8,-4.2,-4.4,-2.2,-3.6,-4.8,-4.2,-1.8,-3.4,-4.0,-3.6,-0.8,-1.6,-3.0,-2.6,0.0],
    [-4.1,-5.3,-5.6,-2.2,-3.1,-4.3,-5.2,-4.8,-5.0,-5.1,-4.8,-4.4,-4.3,-4.5,-5.0,-2.4,-4.0,-4.4,-5.0,-2.5,-4.0,-4.8,-4.8,-3.4,-4.0,-5.8,-6.6,-4.6,-6.2,-7.6,-8.8,-6.4,-8.0,-8.8,-8.0,-5.4,-6.6,-8.2,-8.6,-5.8],
    [-3.8,-5.0,-5.1,-1.7,-2.7,-3.9,-4.7,-4.3,-4.6,-4.6,-4.3,-4.0,-3.8,-3.8,-4.0,-1.0,-2.6,-3.0,-3.6,-1.2,-2.6,-3.2,-3.0,-1.2,-1.8,-3.2,-3.6,-1.4,-3.0,-4.0,-3.6,-1.0,-2.6,-3.2,-2.6,0.0,-0.6,-2.0,-1.6,0.8],
]

# ---------------- style ----------------
W, H = 640, 880
C_AX = '#515a48'
C_TXT = '#5a5a55'
C_ENS = '#93bb68'
C_STIP = '#2f4a2a'
C_CTRL = '#2636ee'
C_OPER = '#e41a1c'
C_MEAN_R = '#c8282a'
C_MEAN_G = '#3d5a30'
C_BLUE = '#2a38e0'


def fx(x):
    return x / W


def fy(y):
    return 1 - y / H


fig = plt.figure(figsize=(6.4, 8.8), dpi=100)
fig.patch.set_facecolor('white')

panels = [
    dict(frame=(62, 326), top=88, ylim=(0, 15), yticks=[0, 5, 10, 15], minor=2.5, ylabel='mm',
         lab_off=0.076, lab_size=14,
         name='Neerslag', members=prec_members, mean=prec_mean, control=prec_control, oper=prec_oper,
         leg_y=[105, 118, 130], leg_bottom=147, zero=False),
    dict(frame=(326, 591), top=352, ylim=(0, 20), yticks=[0, 5, 10, 15, 20], minor=2.5, ylabel='m/s',
         lab_off=0.076, lab_size=14,
         name='10m wind', members=wind_members, mean=wind_mean, control=wind_control, oper=wind_oper,
         leg_y=[371, 383, 395], leg_bottom=412, zero=False),
    dict(frame=(591, 856), top=616, ylim=(-25, 15), yticks=[-25, -20, -15, -10, -5, 0, 5, 10, 15], minor=2.5,
         ylabel='Celsius', lab_off=0.092, lab_size=13, name='T2m', members=temp_members, mean=temp_mean,
         control=temp_control, oper=temp_oper, leg_y=[630, 642, 652, 663], leg_bottom=676, zero=True),
]

AX_L, AX_W, AX_H = 77, 434, 200

for p in panels:
    top = p['top']
    ax = fig.add_axes([fx(AX_L), fy(top + AX_H), AX_W / W, AX_H / H])
    ax.set_xlim(0, 240)
    ax.set_ylim(*p['ylim'])

    mem = np.array(p['members'], dtype=float)
    for m in mem:
        ax.plot(hours, m, color=C_ENS, lw=0.8, zorder=2)
    q25, q75 = np.percentile(mem, [25, 75], axis=0)
    ax.fill_between(hours, q25, q75, facecolor='none', edgecolor=C_STIP, hatch='...',
                    linewidth=0, zorder=3)
    if p['zero']:
        ax.axhline(0, color='#4b5446', lw=2.0, zorder=2.5)
    ax.plot(hours, p['mean'], color=C_MEAN_G, lw=2.0, linestyle=(0, (1, 2)), zorder=4)
    ax.plot(hours, p['mean'], color=C_MEAN_R, lw=2.0, linestyle=(1.5, (1, 2)), zorder=4)
    ax.plot(hours, p['control'], color=C_CTRL, lw=3.0, linestyle=(0, (2.6, 1.2)), zorder=5)
    ax.plot(hours, p['oper'], color=C_OPER, lw=2.8, zorder=6, solid_joinstyle='miter')

    # spines
    for s in ['left', 'right', 'bottom']:
        ax.spines[s].set_color(C_AX)
        ax.spines[s].set_linewidth(1.2)
    ax.spines['top'].set_color('#a9b2a2')
    ax.spines['top'].set_linewidth(1.2)

    # y ticks
    ax.set_yticks(p['yticks'])
    ax.set_yticks(np.arange(p['ylim'][0], p['ylim'][1] + 0.01, p['minor']), minor=True)
    ax.tick_params(axis='y', which='both', left=True, right=True, labelleft=True, labelright=True,
                   direction='out', color=C_AX, labelcolor=C_AX, labelsize=10.5, pad=1)
    ax.tick_params(axis='y', which='major', length=5)
    ax.tick_params(axis='y', which='minor', length=3)
    for lbl in ax.get_yticklabels():
        lbl.set_fontweight('bold')

    # x ticks
    ax.set_xticks(tick_hours, tick_labels)
    ax.set_xticks(hours, minor=True)
    ax.tick_params(axis='x', which='major', direction='out', length=3, color=C_AX, labelcolor=C_AX, pad=0.5)
    ax.tick_params(axis='x', which='minor', direction='out', length=2, color=C_AX)
    for i, lbl in enumerate(ax.get_xticklabels()):
        lbl.set_fontweight('bold')
        lbl.set_fontsize(10.5 if i % 2 == 0 else 5.5)
    for h in sub_hours:
        ax.text(h, -0.12, '12', transform=ax.get_xaxis_transform(), ha='center', va='center',
                fontsize=5, color=C_AX, fontweight='bold')

    # axis labels
    ax.text(-p['lab_off'], 0.5, p['ylabel'], transform=ax.transAxes, rotation=90, ha='center', va='center',
            fontsize=p['lab_size'], fontweight='bold', color=C_AX)
    ax.text(1 + p['lab_off'], 0.5, p['ylabel'], transform=ax.transAxes, rotation=90, ha='center',
            va='center', fontsize=p['lab_size'], fontweight='bold', color=C_AX)
    fig.text(fx(296), fy(top + AX_H + 27), 'Dag', ha='center', va='center', fontsize=13.5, color=C_TXT)

    # title / station
    f0, f1 = p['frame']
    fig.text(fx(286), fy(f0 + 13), title, ha='center', va='center', fontsize=9.5,
             fontweight='bold', color=C_TXT)
    fig.text(fx(464), fy(top + 12), 'De Bilt', ha='center', va='center', fontsize=7.5, color=C_TXT,
             fontweight='bold')
    fig.text(fx(464), fy(top + 25), p['name'], ha='center', va='center', fontsize=7.5, color=C_TXT,
             fontweight='bold')
    fig.text(fx(462), fy(f1 - 6), 'Bron: ECMWF/KNMI', ha='left', va='center', fontsize=7.5,
             fontweight='bold', color=C_BLUE)

    # legend
    fig.add_artist(Rectangle((fx(78), fy(p['leg_bottom'])), (183 - 78) / W, (p['leg_bottom'] - top) / H,
                             transform=fig.transFigure, facecolor='white', edgecolor='#6d7a5e',
                             lw=0.8, linestyle=':', zorder=7))
    ly = p['leg_y']
    xs = [fx(80), fx(112)]
    fig.add_artist(Line2D(xs, [fy(ly[0])] * 2, transform=fig.transFigure, color=C_MEAN_G, lw=2,
                          linestyle=(0, (1, 2)), zorder=8))
    fig.add_artist(Line2D(xs, [fy(ly[0])] * 2, transform=fig.transFigure, color=C_MEAN_R, lw=2,
                          linestyle=(1.5, (1, 2)), zorder=8))
    fig.add_artist(Line2D(xs, [fy(ly[1])] * 2, transform=fig.transFigure, color=C_CTRL, lw=3,
                          linestyle=(0, (2.6, 1.2)), zorder=8))
    fig.add_artist(Line2D(xs, [fy(ly[2])] * 2, transform=fig.transFigure, color=C_OPER, lw=3, zorder=8))
    names = ['Ensgem', 'Control', 'Oper']
    if len(ly) == 4:
        fig.add_artist(Line2D([fx(95)], [fy(ly[3])], transform=fig.transFigure, marker='o', markersize=4,
                              color='#6a3a28', lw=0, zorder=8))
        names.append('MOS TnTx')
    for yy, nm in zip(ly, names):
        fig.text(fx(146), fy(yy), nm, ha='center', va='center', fontsize=8, fontweight='bold',
                 color=C_BLUE, zorder=9)

    # panel frame
    fig.add_artist(Line2D([fx(21), fx(573), fx(573), fx(21)], [fy(f0), fy(f0), fy(f1), fy(f1)],
                          transform=fig.transFigure, color='#3a4ad8', lw=0.8, linestyle=':'))
    fig.add_artist(Line2D([fx(21), fx(21)], [fy(f0), fy(f1)], transform=fig.transFigure,
                          color='#9aa69a', lw=0.8, linestyle=':'))

fig.savefig('out.png', dpi=100, facecolor='white')
